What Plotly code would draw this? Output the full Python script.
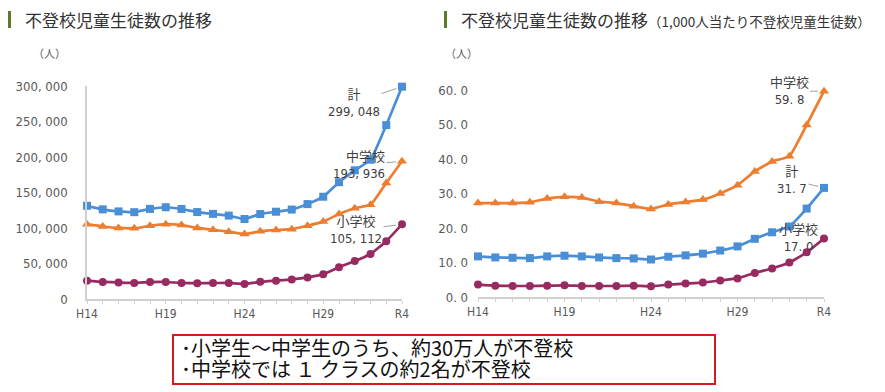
import plotly.graph_objects as go

years = ["H14","H15","H16","H17","H18","H19","H20","H21","H22","H23","H24",
         "H25","H26","H27","H28","H29","H30","R1","R2","R3","R4"]
tick_labels = ["H14","","","","","H19","","","","","H24","","","","","H29","","","","","R4"]

# counts
total_n = [131252,126226,123358,122287,126894,129255,126805,122432,119891,117458,112689,
           119617,122897,125991,133683,144031,164528,181272,196127,244940,299048]
junior_n = [105383,102149,100040,99578,103069,105328,104153,100105,97428,94836,91446,
            95442,97033,98408,103235,108999,119687,127922,132777,163442,193936]
elem_n = [25869,24077,23318,22709,23825,23927,22652,22327,22463,22622,21243,
          24175,25864,27583,30448,35032,44841,53350,63350,81498,105112]

# per 1,000 pupils
total_r = [11.8,11.5,11.4,11.3,11.8,12.0,11.8,11.5,11.3,11.2,10.9,
           11.7,12.1,12.6,13.5,14.7,16.9,18.8,20.5,25.7,31.7]
junior_r = [27.3,27.3,27.3,27.5,28.6,29.1,28.9,27.7,27.3,26.4,25.6,
            26.9,27.6,28.3,30.1,32.5,36.5,39.4,40.9,50.0,59.8]
elem_r = [3.6,3.3,3.2,3.2,3.3,3.4,3.2,3.2,3.2,3.3,3.1,
          3.6,3.9,4.2,4.8,5.4,7.0,8.3,10.0,13.0,17.0]

left_ticks = [0,50000,100000,150000,200000,250000,300000]
left_ticktext = ["0","50, 000","100, 000","150, 000","200, 000","250, 000","300, 000"]
right_ticks = [0,10,20,30,40,50,60]
right_ticktext = ["0. 0","10. 0","20. 0","30. 0","40. 0","50. 0","60. 0"]

BLUE = "#4a8fd5"
ORANGE = "#ee7d2f"
PURPLE = "#982a62"
NUMFONT = "Liberation Sans Narrow, DejaVu Sans Condensed, Noto Sans CJK JP, sans-serif"
TFONT = "Noto Sans CJK JP, sans-serif"
idx = list(range(len(years)))

# page body has an 8px margin; the figure is sized to fill the rest of the window
OFF = 8
W, H = 885 - OFF, 392 - OFF
def px(rx):
    return (rx - OFF) / W
def py(ry):
    return 1 - (ry - OFF) / H

fig = go.Figure()

def add_series(xa, ya, vals, color, symbol, size):
    fig.add_trace(go.Scatter(
        x=idx, y=vals, xaxis=xa, yaxis=ya, mode="lines+markers",
        line=dict(color=color, width=2.7, shape="spline", smoothing=0.4),
        marker=dict(symbol=symbol, size=size, color=color),
        cliponaxis=False, showlegend=False, hoverinfo="skip"))

add_series("x", "y", elem_n, PURPLE, "circle", 8)
add_series("x", "y", junior_n, ORANGE, "triangle-up", 9)
add_series("x", "y", total_n, BLUE, "square", 8)
add_series("x2", "y2", elem_r, PURPLE, "circle", 8)
add_series("x2", "y2", junior_r, ORANGE, "triangle-up", 9)
add_series("x2", "y2", total_r, BLUE, "square", 8)

xcommon = dict(range=[0, 20], tickmode="array", tickvals=idx, ticktext=tick_labels,
               showgrid=False, zeroline=False, showline=True, linecolor="#d0d0d0",
               linewidth=1.5, ticks="outside", ticklen=3, tickcolor="#d0d0d0",
               automargin=False,
               tickfont=dict(family=NUMFONT, size=12, color="#595959"), fixedrange=True)
ycommon = dict(showgrid=False, zeroline=False, ticks="", tickmode="array", automargin=False,
               tickfont=dict(family=NUMFONT, size=13, color="#595959"), fixedrange=True)

fig.update_layout(
    width=W, height=H, margin=dict(l=0, r=0, t=0, b=0, autoexpand=False),
    paper_bgcolor="white", plot_bgcolor="white",
    xaxis=dict(domain=[px(87), px(402)], anchor="y", **xcommon),
    yaxis=dict(domain=[py(299), py(86)], anchor="x", range=[0, 300000],
               tickvals=left_ticks, ticktext=left_ticktext, ticklabelstandoff=15,
               showline=True, linecolor="#d0d0d0", linewidth=1.5, **ycommon),
    xaxis2=dict(domain=[px(478), px(824)], anchor="y2", **xcommon),
    yaxis2=dict(domain=[py(297), py(90.5)], anchor="x2", range=[0, 60],
                tickvals=right_ticks, ticktext=right_ticktext, ticklabelstandoff=9,
                showline=False, **ycommon),
)

# title bars
for x0 in (8, 444):
    fig.add_shape(type="rect", xref="paper", yref="paper",
                  x0=px(x0), x1=px(x0 + 3), y0=py(28), y1=py(11),
                  fillcolor="#5b7a2c", line=dict(width=0))

fig.add_annotation(xref="paper", yref="paper", x=px(23), y=py(19), xanchor="left",
                   yanchor="middle", showarrow=False, text="不登校児童生徒数の推移",
                   font=dict(family=TFONT, size=17, color="#333333"))
fig.add_annotation(xref="paper", yref="paper", x=px(459), y=py(19), xanchor="left",
                   yanchor="middle", showarrow=False,
                   text="不登校児童生徒数の推移<span style='font-size:13.5px'>（1,000人当たり不登校児童生徒数）</span>",
                   font=dict(family=TFONT, size=17, color="#333333"))
for x0 in (31, 443):
    fig.add_annotation(xref="paper", yref="paper", x=px(x0), y=py(53), xanchor="left",
                       yanchor="middle", showarrow=False, text="（人）",
                       font=dict(family=TFONT, size=11, color="#595959"))

AFONT = dict(family=NUMFONT, size=13, color="#404040")
def label(xa, ya, val, text, ax, ay, align="center"):
    fig.add_annotation(xref=xa, yref=ya, x=20, y=val, text=text, showarrow=True,
                       arrowhead=0, arrowwidth=1, arrowcolor="#a0a0a0", ax=ax, ay=ay,
                       standoff=6, font=AFONT, align=align, bgcolor="rgba(0,0,0,0)")

label("x", "y", total_n[-1], "計<br>299, 048", -48, 16)
label("x", "y", junior_n[-1], "中学校<br>193, 936", -43, 4, "right")
label("x", "y", elem_n[-1], "小学校<br>105, 112", -46, 6)
label("x2", "y2", junior_r[-1], "中学校<br>59. 8", -35, 0)
label("x2", "y2", total_r[-1], "計<br>31. 7", -32, -8)
label("x2", "y2", elem_r[-1], "小学校<br>17. 0", -26, 0)

# message box
fig.add_shape(type="rect", xref="paper", yref="paper",
              x0=px(173), x1=px(715), y0=py(384), y1=py(335),
              line=dict(color="#d7191c", width=2), fillcolor="white")
msg_lines = ["･小学生～中学生のうち、約30万人が不登校", "･中学校では １ クラスの約2名が不登校"]
for line_text, ry in zip(msg_lines, (347, 368)):
    fig.add_annotation(xref="paper", yref="paper", x=px(179), y=py(ry), xanchor="left",
                       yanchor="middle", showarrow=False, align="left", text=line_text,
                       font=dict(family=TFONT, size=20, color="#111111"))

fig.write_html("out.html")
